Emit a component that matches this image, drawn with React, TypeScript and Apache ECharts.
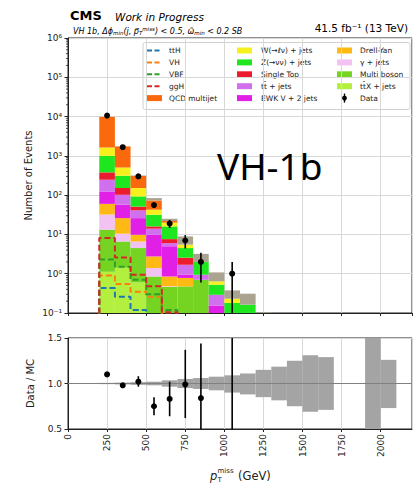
import React, { useEffect, useRef } from 'react';
import * as echarts from 'echarts';

// Histogram binning (GeV): lower edges of the 100 GeV wide bins
const binLow = [200, 300, 400, 500, 600, 700, 800, 900, 1000, 1100, 1200];
const binWidth = 100;

// Background yields per bin (events), bottom of the stack first
const ttXJets = [1.12, 1.42, 0.6, 0.05, 0.03, 0.02, 0.01, 0, 0, 0, 0];
const multiBoson = [12.1, 5.2, 3.9, 0.8, 0.43, 0.455, 0.69, 0.01, 0, 0, 0];
const gammaJets = [18.8, 3.8, 2.1, 0.55, 0.02, 0, 0, 0, 0, 0, 0];
const drellYan = [28, 15.6, 3.2, 1.35, 0.37, 0.305, 0, 0.01, 0, 0, 0];
const ewkV2Jets = [64, 31, 16.2, 7.05, 4.15, 0.16, 0, 0.135, 0, 0, 0];
const ttJets = [123, 45, 15, 4.2, 1.0, 0.75, 0.24, 0.135, 0, 0, 0];
const singleTop = [133, 50, 10, 2, 1.6, 0.86, 0, 0, 0, 0, 0];
const zNuNuJets = [620, 159, 42, 15.6, 8.4, 1.95, 1.06, 0.235, 0.18, 0.163, 0];
const wLNuJets = [630, 194, 59, 11, 4, 1.0, 0, 0.115, 0.051, 0, 0];
const qcdMultijet = [8170, 1235, 159, 30.4, 2, 0, 0, 0, 0, 0, 0];
const otherBkg = [60, 14, 5, 11, 3, 3.4, 1.2, 0.44, 0.145, 0.147, 0.104];

// Signal yields (unstacked, dashed outlines), first five bins
const signalLow = [200, 300, 400, 500, 600];
const sigTTH = [0.43, 0.26, 0.12, 0.05, 0.02];
const sigVH = [0.9, 0.55, 0.35, 0.26, 0.09];
const sigVBF = [2.3, 1.5, 0.7, 0.3, 0.12];
const sigGGH = [8.1, 2.6, 0.94, 0.48, 0.105];

// Observed data
const dataX = [250, 350, 450, 550, 650, 750, 850, 1050];
const dataY = [10600, 1660, 300, 56, 19, 7, 2, 1];
const dataErrLow = [103, 41, 17, 7.5, 4.4, 2.6, 1.4, 1];
const dataErrHigh = [103, 41, 17, 7.5, 4.4, 2.6, 1.4, 1];

// Data / MC ratio
const ratioY = [1.1, 0.98, 1.02, 0.75, 0.83, 0.99, 0.84, 2.66];
const ratioErrLow = [0.01, 0.02, 0.055, 0.1, 0.19, 0.37, 0.59, 2.66];
const ratioErrHigh = [0.01, 0.02, 0.06, 0.1, 0.19, 0.38, 0.6, 2.66];

// MC uncertainty band in the ratio panel
const bandLow = [200, 300, 400, 500, 600, 700, 800, 900, 1000, 1100, 1200, 1300, 1400, 1500, 1600, 1700, 1800, 1900, 2000];
const bandUp = [1.007, 1.01, 1.015, 1.02, 1.035, 1.05, 1.06, 1.075, 1.09, 1.11, 1.15, 1.185, 1.25, 1.31, 1.29, null, null, 1.6, 1.26];
const bandDown = [0.993, 0.99, 0.985, 0.98, 0.965, 0.95, 0.94, 0.925, 0.9, 0.88, 0.85, 0.815, 0.75, 0.69, 0.71, null, null, 0.4, 0.73];

const FLOOR = 1e-4;
const FONT = 'DejaVu Sans';

const stackDefs = [
  { name: 'ttX + jets', values: ttXJets, color: '#b2ef3e' },
  { name: 'Multi boson', values: multiBoson, color: '#74d421' },
  { name: 'γ + jets', values: gammaJets, color: '#f2c3f2' },
  { name: 'Drell-Yan', values: drellYan, color: '#ffb915' },
  { name: 'EWK V + 2 jets', values: ewkV2Jets, color: '#e11fe6' },
  { name: 'tt + jets', values: ttJets, color: '#d170ee' },
  { name: 'Single Top', values: singleTop, color: '#ec1b2e' },
  { name: 'Z(→νν) + jets', values: zNuNuJets, color: '#1fe71f' },
  { name: 'W(→ℓν) + jets', values: wLNuJets, color: '#f6f01d' },
  { name: 'QCD multijet', values: qcdMultijet, color: '#fa6a0c' },
  { name: 'Other', values: otherBkg, color: '#a9a390' },
];

const signalDefs = [
  { name: 'ttH', values: sigTTH, color: '#1f77b4' },
  { name: 'VH', values: sigVH, color: '#ff7f0e' },
  { name: 'VBF', values: sigVBF, color: '#2ca02c' },
  { name: 'ggH', values: sigGGH, color: '#d62728' },
];

const SUP: Record<string, string> = { '-': '⁻', '0': '⁰', '1': '¹', '2': '²', '3': '³', '4': '⁴', '5': '⁵', '6': '⁶', '7': '⁷', '8': '⁸', '9': '⁹' };

function rectRender(color: string) {
  return (params: any, api: any) => {
    const p0 = api.coord([api.value(0), api.value(3)]);
    const p1 = api.coord([api.value(1), api.value(2)]);
    const cs = params.coordSys;
    const shape = echarts.graphic.clipRectByRect(
      { x: p0[0], y: p0[1], width: p1[0] - p0[0], height: p1[1] - p0[1] },
      { x: cs.x, y: cs.y, width: cs.width, height: cs.height }
    );
    if (!shape) return null;
    return { type: 'rect', shape, style: { fill: color } };
  };
}

function errorRender(params: any, api: any) {
  const cs = params.coordSys;
  const x = api.value(0);
  const pc = api.coord([x, api.value(1)]);
  const pl = api.coord([x, api.value(2)]);
  const ph = api.coord([x, api.value(3)]);
  const top = cs.y;
  const bottom = cs.y + cs.height;
  const y1 = Math.min(Math.max(ph[1], top), bottom);
  const y2 = Math.min(Math.max(pl[1], top), bottom);
  const children: any[] = [
    { type: 'line', shape: { x1: pc[0], y1, x2: pc[0], y2 }, style: { stroke: '#000', lineWidth: 1.6 } },
  ];
  if (pc[1] >= top && pc[1] <= bottom) {
    children.push({ type: 'circle', shape: { cx: pc[0], cy: pc[1], r: 3 }, style: { fill: '#000' } });
  }
  return { type: 'group', children };
}

function buildStackSeries() {
  const cum = binLow.map(() => 0);
  return stackDefs.map((def) => {
    const items: number[][] = [];
    def.values.forEach((v, i) => {
      const lo = cum[i];
      const hi = lo + v;
      cum[i] = hi;
      if (v > 0) items.push([binLow[i], binLow[i] + binWidth, Math.max(lo, FLOOR), hi]);
    });
    return {
      type: 'custom',
      name: def.name,
      xAxisIndex: 0,
      yAxisIndex: 0,
      renderItem: rectRender(def.color),
      encode: { x: [0, 1], y: [2, 3] },
      data: items,
      z: 2,
    };
  });
}

function buildSignalSeries() {
  return signalDefs.map((def) => {
    const pts: number[][] = [[signalLow[0], FLOOR]];
    def.values.forEach((v, i) => pts.push([signalLow[i], v]));
    const last = signalLow.length - 1;
    pts.push([signalLow[last] + binWidth, def.values[last]]);
    pts.push([signalLow[last] + binWidth, FLOOR]);
    return {
      type: 'line',
      name: def.name,
      xAxisIndex: 0,
      yAxisIndex: 0,
      step: 'end',
      symbol: 'none',
      clip: true,
      lineStyle: { color: def.color, width: 2, type: [6, 3] },
      data: pts,
      z: 3,
    };
  });
}

function minorTickValues() {
  const out: number[][] = [];
  for (let e = -1; e < 6; e++) {
    for (let m = 2; m <= 9; m++) out.push([0, m * Math.pow(10, e)]);
  }
  return out;
}

function legendGraphic() {
  const rowY = (i: number) => 50.5 + 11.9 * i;
  const els: any[] = [];
  els.push({
    type: 'rect',
    shape: { x: 143, y: 42.5, width: 267, height: 67, r: 2 },
    style: { fill: '#fff', stroke: '#d0d0d0', lineWidth: 1 },
  });
  const txt = (x: number, y: number, text: string) => ({
    type: 'text',
    x,
    y,
    style: { text, fontSize: 7.5, fontFamily: FONT, fill: '#222', verticalAlign: 'middle', align: 'left' },
  });
  const patch = (x: number, y: number, color: string) => ({
    type: 'rect',
    shape: { x, y: y - 3, width: 15, height: 6 },
    style: { fill: color },
  });
  signalDefs.forEach((d, i) => {
    els.push({
      type: 'line',
      shape: { x1: 147, y1: rowY(i), x2: 162, y2: rowY(i) },
      style: { stroke: d.color, lineWidth: 2, lineDash: [5, 2.5] },
    });
    els.push(txt(169, rowY(i), d.name));
  });
  els.push(patch(147, rowY(4), '#fa6a0c'));
  els.push(txt(169, rowY(4), 'QCD multijet'));
  const col2 = [
    ['W(→ℓν) + jets', '#f6f01d'],
    ['Z(→νν) + jets', '#1fe71f'],
    ['Single Top', '#ec1b2e'],
    ['tt\u0304 + jets', '#d170ee'],
    ['EWK V + 2 jets', '#e11fe6'],
  ];
  col2.forEach(([t, c], i) => {
    els.push(patch(237, rowY(i), c));
    els.push(txt(261, rowY(i), t));
  });
  const col3 = [
    ['Drell-Yan', '#ffb915'],
    ['γ + jets', '#f2c3f2'],
    ['Multi boson', '#74d421'],
    ['tt\u0304X + jets', '#b2ef3e'],
  ];
  col3.forEach(([t, c], i) => {
    els.push(patch(337, rowY(i), c));
    els.push(txt(360, rowY(i), t));
  });
  els.push({ type: 'line', shape: { x1: 344.5, y1: rowY(4) - 4.5, x2: 344.5, y2: rowY(4) + 4.5 }, style: { stroke: '#000', lineWidth: 1.4 } });
  els.push({ type: 'circle', shape: { cx: 344.5, cy: rowY(4), r: 2.4 }, style: { fill: '#000' } });
  els.push(txt(360, rowY(4), 'Data'));
  return { type: 'group', z: 100, children: els };
}

export default function App() {
  const ref = useRef<HTMLDivElement>(null);

  useEffect(() => {
    if (!ref.current) return;
    const chart = echarts.init(ref.current, undefined, { renderer: 'svg' });

    const axisLineStyle = { color: '#222', width: 1 };
    const gridLine = { show: true, lineStyle: { color: '#d8d8d8', width: 1 } };

    const option: any = {
      animation: false,
      backgroundColor: '#fff',
      textStyle: { fontFamily: FONT },
      grid: [
        { left: 68, top: 38, width: 344, height: 275, show: true, borderColor: '#222', borderWidth: 1, backgroundColor: 'transparent' },
        { left: 68, top: 338, width: 344, height: 91, show: true, borderColor: '#222', borderWidth: 1, backgroundColor: 'transparent' },
      ],
      xAxis: [
        {
          type: 'value', gridIndex: 0, min: 0, max: 2200, interval: 250,
          axisLine: { show: true, lineStyle: axisLineStyle },
          axisTick: { show: true, length: 3, lineStyle: axisLineStyle },
          axisLabel: { show: false },
          splitLine: gridLine,
        },
        {
          type: 'value', gridIndex: 1, min: 0, max: 2200, interval: 250,
          axisLine: { show: true, lineStyle: axisLineStyle },
          axisTick: { show: true, length: 3, lineStyle: axisLineStyle },
          axisLabel: {
            rotate: 90, fontSize: 9, color: '#222', margin: 5, showMaxLabel: false, fontFamily: FONT,
            formatter: (v: number) => String(Math.round(v)),
          },
          splitLine: gridLine,
        },
      ],
      yAxis: [
        {
          type: 'log', logBase: 10, gridIndex: 0, min: 0.1, max: 1e6,
          axisLine: { show: true, lineStyle: axisLineStyle },
          axisTick: { show: true, length: 3.5, lineStyle: axisLineStyle },
          axisLabel: {
            fontSize: 9, color: '#222', margin: 6, fontFamily: FONT,
            formatter: (v: number) => {
              const e = Math.round(Math.log10(v));
              return '10' + String(e).split('').map((c) => SUP[c]).join('');
            },
          },
          splitLine: gridLine,
        },
        {
          type: 'value', gridIndex: 1, min: 0.5, max: 1.5, interval: 0.5,
          axisLine: { show: true, lineStyle: axisLineStyle },
          axisTick: { show: true, length: 3.5, lineStyle: axisLineStyle },
          axisLabel: { fontSize: 9, color: '#222', margin: 6, fontFamily: FONT, formatter: (v: number) => v.toFixed(1) },
          splitLine: gridLine,
        },
      ],
      series: [
        {
          type: 'custom',
          name: 'minor ticks',
          xAxisIndex: 0,
          yAxisIndex: 0,
          silent: true,
          data: minorTickValues(),
          renderItem: (params: any, api: any) => {
            const p = api.coord([api.value(0), api.value(1)]);
            return { type: 'line', shape: { x1: p[0] - 2, y1: p[1], x2: p[0], y2: p[1] }, style: { stroke: '#222', lineWidth: 0.8 } };
          },
        },
        ...buildStackSeries(),
        ...buildSignalSeries(),
        {
          type: 'custom',
          name: 'Data',
          xAxisIndex: 0,
          yAxisIndex: 0,
          z: 5,
          renderItem: errorRender,
          data: dataX.map((x, i) => [x, dataY[i], Math.max(dataY[i] - dataErrLow[i], FLOOR), dataY[i] + dataErrHigh[i]]),
        },
        {
          type: 'custom',
          name: 'MC uncertainty',
          xAxisIndex: 1,
          yAxisIndex: 1,
          z: 2,
          renderItem: rectRender('#a4a4a4'),
          encode: { x: [0, 1], y: [2, 3] },
          data: bandLow
            .map((x, i) => (bandUp[i] == null ? null : [x, x + binWidth, bandDown[i], bandUp[i]]))
            .filter((d) => d !== null),
          markLine: {
            silent: true,
            symbol: 'none',
            label: { show: false },
            lineStyle: { color: '#808080', width: 1, type: 'solid' },
            data: [{ yAxis: 1 }],
          },
        },
        {
          type: 'custom',
          name: 'Data / MC',
          xAxisIndex: 1,
          yAxisIndex: 1,
          z: 5,
          renderItem: errorRender,
          data: dataX.map((x, i) => [x, ratioY[i], ratioY[i] - ratioErrLow[i], ratioY[i] + ratioErrHigh[i]]),
        },
      ],
      graphic: [
        { type: 'text', x: 70, y: 15.5, style: { text: 'CMS', fontSize: 13, fontWeight: 'bold', fontFamily: FONT, fill: '#000', verticalAlign: 'middle' } },
        { type: 'text', x: 115, y: 16.5, style: { text: 'Work in Progress', fontSize: 10.5, fontStyle: 'italic', fontFamily: FONT, fill: '#000', verticalAlign: 'middle' } },
        {
          type: 'text', x: 73, y: 31,
          style: {
            text: '{i|VH 1b, Δϕ}{s|min}{i|(j, p⃗}{s|T}{u|miss}{i|) < 0.5, ω̃}{s|min}{i| < 0.2 SB}',
            verticalAlign: 'middle',
            rich: {
              i: { fontSize: 8, fontStyle: 'italic', fontFamily: FONT, fill: '#000' },
              s: { fontSize: 5.5, fontStyle: 'italic', fontFamily: FONT, fill: '#000', padding: [4, 0, 0, 0] },
              u: { fontSize: 5.5, fontStyle: 'italic', fontFamily: FONT, fill: '#000', padding: [0, 0, 5, 0] },
            },
          },
        },
        { type: 'text', x: 408, y: 27.5, style: { text: '41.5 fb⁻¹ (13 TeV)', fontSize: 10.5, fontFamily: FONT, fill: '#000', align: 'right', verticalAlign: 'middle' } },
        { type: 'text', x: 28, y: 175.5, rotation: Math.PI / 2, style: { text: 'Number of Events', fontSize: 10, fontFamily: FONT, fill: '#222', align: 'center', verticalAlign: 'middle' } },
        { type: 'text', x: 30, y: 383.5, rotation: Math.PI / 2, style: { text: 'Data / MC', fontSize: 10, fontFamily: FONT, fill: '#222', align: 'center', verticalAlign: 'middle' } },
        { type: 'text', x: 210, y: 476, style: { text: 'p', fontSize: 11.5, fontStyle: 'italic', fontFamily: FONT, fill: '#222', verticalAlign: 'middle' } },
        { type: 'text', x: 217.5, y: 470.5, style: { text: 'miss', fontSize: 7, fontFamily: FONT, fill: '#222', verticalAlign: 'middle' } },
        { type: 'text', x: 217.5, y: 480, style: { text: 'T', fontSize: 7, fontFamily: FONT, fill: '#222', verticalAlign: 'middle' } },
        { type: 'text', x: 238, y: 476, style: { text: '(GeV)', fontSize: 11.5, fontFamily: FONT, fill: '#222', verticalAlign: 'middle' } },
        { type: 'text', x: 217, y: 165, z: 50, style: { text: 'VH-1b', fontSize: 37, fontFamily: 'Noto Sans', fill: '#000', verticalAlign: 'middle' } },
        legendGraphic(),
      ],
    };

    chart.setOption(option);
    return () => chart.dispose();
  }, []);

  return (
    <div
      ref={ref}
      style={{ position: 'fixed', left: 0, top: 0, width: 414, height: 485, background: '#fff' }}
    />
  );
}
